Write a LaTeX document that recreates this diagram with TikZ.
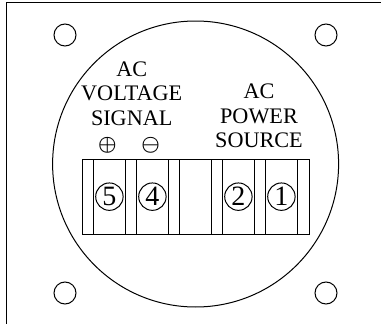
\documentclass[tikz,border=0pt]{standalone}
\usepackage{fontspec}
\setmainfont{Liberation Serif}
\usetikzlibrary{positioning}
\tikzset{
node distance=10.6pt, % gap between two terminals
hole/.style={draw, circle, minimum size=22pt, inner sep=0pt},
terminal/.style={draw, rectangle, minimum width=32.4pt, minimum height=75.3pt, inner sep=0pt, outer sep=0pt},
number/.style={draw, circle, minimum size=27.4pt, inner sep=0pt, font=\fontsize{28}{28}\selectfont},
sign/.style={inner sep=0pt, font=\fontsize{21.5}{21.5}\selectfont\boldmath},
title/.style={inner sep=0pt, anchor=south, align=center, font=\fontsize{22.2}{24.2}\selectfont},
}

\begin{document}
\begin{tikzpicture}[x=1pt, y=-1pt, line width=1pt]
  \useasboundingbox (0,0) rectangle (381,324);

  % panel edge and round plate
  \coordinate (edgeb) at (6.5,324);
  \coordinate (edgec) at (6.5,2.5);
  \coordinate (edger) at (381,2.5);
  \draw[line width=1.4pt] (edgeb) -- (edgec) -- (edger);
  \node[draw, circle, minimum size=286pt, inner sep=0pt] (plate) at (195.6,164) {};

  % mounting holes
  \node[hole] (h1) at (65,35) {};
  \node[hole] (h2) at (326,35) {};
  \node[hole] (h3) at (65,293) {};
  \node[hole] (h4) at (326,293) {};

  % terminal block
  \node[draw, rectangle, minimum width=227.3pt, minimum height=75.3pt, inner sep=0pt, outer sep=0pt] (block) at (195.65,196.65) {};
  \node[terminal] (t5) at (109.4,196.65) {};
  \node[terminal, right=of t5] (t4) {};
  \node[terminal, right=of t4] (t3) {};
  \node[terminal, right=of t3] (t2) {};
  \node[terminal, right=of t2] (t1) {};

  \node[number] (n5) at (t5) {5};
  \node[number] (n4) at (t4) {4};
  \node[number] (n2) at (t2) {2};
  \node[number] (n1) at (t1) {1};

  % labels
  \node[sign] (plus) at (107.3,145.7) {$\oplus$};
  \node[sign] (minus) at (150.7,145.7) {$\ominus$};
  \node[title] (signal) at (131.7,125.8) {AC\\VOLTAGE\\SIGNAL};
  \node[title] (source) at (259,148) {AC\\POWER\\SOURCE};
\end{tikzpicture}
\end{document}
